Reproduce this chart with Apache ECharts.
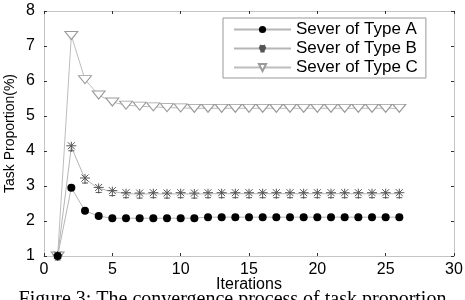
<!DOCTYPE html>
<html>
<head>
<meta charset="utf-8">
<script src="https://cdn.jsdelivr.net/npm/echarts@6/dist/echarts.min.js"></script>
<style>
  html, body { margin: 0; padding: 0; background: #fff; }
  #chart { width: 465px; height: 300px; }
</style>
</head>
<body>
<div id="chart"></div>
<script>
// iterations 1..26
var iterations = [1,2,3,4,5,6,7,8,9,10,11,12,13,14,15,16,17,18,19,20,21,22,23,24,25,26];
// task proportion (%) for each server type
var typeA = [1.0,2.95,2.29,2.14,2.08,2.08,2.08,2.08,2.08,2.08,2.08,2.11,2.11,2.11,2.11,2.11,2.11,2.11,2.11,2.11,2.11,2.11,2.11,2.11,2.11,2.11];
var typeB = [1.0,4.12,3.2,2.93,2.84,2.78,2.77,2.78,2.77,2.78,2.77,2.78,2.78,2.78,2.78,2.78,2.78,2.78,2.78,2.78,2.78,2.78,2.78,2.78,2.78,2.78];
var typeC = [1.0,7.3,6.04,5.6,5.4,5.31,5.28,5.26,5.24,5.23,5.22,5.22,5.22,5.22,5.22,5.22,5.22,5.22,5.22,5.22,5.22,5.22,5.22,5.22,5.22,5.22];
var seriesNames = ["Sever of Type A", "Sever of Type B", "Sever of Type C"];

function pairs(vals) {
  return vals.map(function (v, i) { return [iterations[i], v]; });
}

var chart = echarts.init(document.getElementById("chart"));

var axisFont = { color: "#000", fontFamily: "Arial, Liberation Sans", fontSize: 16 };
var frame = { show: true, onZero: false, lineStyle: { color: "#c4c4c4", width: 1 } };
var ticks = { show: true, inside: true, length: 3, lineStyle: { color: "#333", width: 1 } };

var option = {
  animation: false,
  grid: { left: 44, right: 11, top: 11, bottom: 44, containLabel: false, outerBoundsMode: "none" },
  legend: {
    orient: "vertical",
    left: 223,
    top: 18,
    padding: [3, 8, 2, 10],
    itemGap: 2,
    itemWidth: 57,
    itemHeight: 9,
    borderColor: "#999",
    borderWidth: 1,
    textStyle: { color: "#000", fontFamily: "Arial, Liberation Sans", fontSize: 17, padding: [0, 22, 0, 0] },
    data: seriesNames
  },
  xAxis: [
    {
      type: "value", min: 0, max: 30, interval: 5,
      name: "Iterations", nameLocation: "middle", nameGap: 21, nameMoveOverlap: false,
      nameTextStyle: { color: "#000", fontFamily: "Arial, Liberation Sans", fontSize: 16 },
      axisLine: frame, axisTick: ticks,
      axisLabel: Object.assign({ margin: 6 }, axisFont),
      splitLine: { show: false }
    },
    {
      type: "value", position: "top", min: 0, max: 30, interval: 5,
      axisLine: frame, axisTick: ticks, axisLabel: { show: false }, splitLine: { show: false }
    }
  ],
  yAxis: [
    {
      type: "value", min: 1, max: 8, interval: 1,
      name: "Task Proportion(%)", nameLocation: "middle", nameGap: 27, nameMoveOverlap: false, nameRotate: 90,
      nameTextStyle: { color: "#000", fontFamily: "Arial, Liberation Sans", fontSize: 14 },
      axisLine: frame, axisTick: ticks,
      axisLabel: Object.assign({ margin: 9 }, axisFont),
      splitLine: { show: false }
    },
    {
      type: "value", position: "right", min: 1, max: 8, interval: 1,
      axisLine: frame, axisTick: ticks, axisLabel: { show: false }, splitLine: { show: false }
    }
  ],
  series: [
    {
      name: seriesNames[0], type: "line", data: pairs(typeA),
      symbol: "circle", symbolSize: 8,
      itemStyle: { color: "#000" },
      lineStyle: { color: "#b5b5b5", width: 1 },
      z: 4
    },
    {
      name: seriesNames[1], type: "line", data: pairs(typeB),
      symbol: "path://M5,0 L5,10 M0,4 L10,4 M1.5,0.5 L8.5,7.5 M8.5,0.5 L1.5,7.5 M2,9 L8,9",
      symbolSize: [10, 10],
      itemStyle: { color: "none", borderColor: "#555", borderWidth: 1 },
      lineStyle: { color: "#b5b5b5", width: 1 },
      z: 3
    },
    {
      name: seriesNames[2], type: "line", data: pairs(typeC),
      symbol: "path://M0,0 L12,0 L6,8 Z",
      symbolSize: [13, 8],
      itemStyle: { color: "#fff", borderColor: "#9a9a9a", borderWidth: 1 },
      lineStyle: { color: "#bdbdbd", width: 1 },
      z: 2
    }
  ],
  graphic: [
    {
      type: "text", left: "center", top: 290,
      style: {
        text: "Figure 3: The convergence process of task proportion",
        fill: "#000", font: "20px 'Liberation Serif', 'DejaVu Serif', serif"
      }
    }
  ]
};

chart.setOption(option);
</script>
</body>
</html>
